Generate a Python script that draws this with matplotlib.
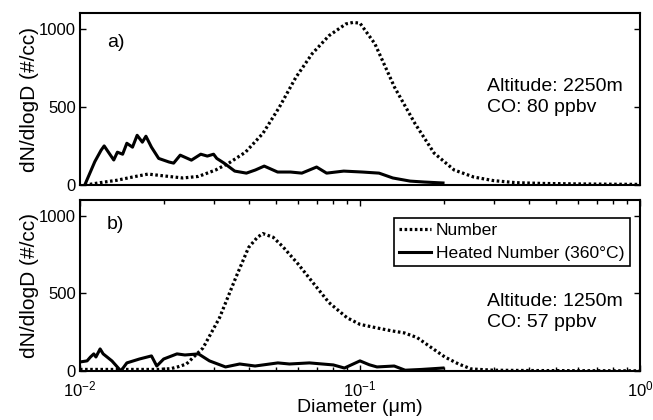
import numpy as np
import matplotlib.pyplot as plt
from matplotlib.ticker import LogLocator, NullFormatter, NullLocator

# panel a) 2250 m
a_num_d = [0.0104, 0.0109, 0.0118, 0.0135, 0.0155, 0.0175, 0.0200, 0.0233, 0.0265,
           0.0305, 0.0340, 0.0390, 0.0450, 0.0515, 0.0590, 0.0675, 0.0775, 0.0890,
           0.0945, 0.1000, 0.1130, 0.1330, 0.1570, 0.1840, 0.2170, 0.2550, 0.3000,
           0.3600, 0.4500, 0.6000, 0.8000, 1.0000]
a_num_v = [0, 5, 15, 30, 52, 70, 58, 45, 55, 96, 140, 210, 330, 497, 688, 840, 955, 1030,
           1040, 1035, 904, 624, 395, 204, 96, 51, 28, 15, 10, 7, 5, 4]

a_heat_d = [0.0104, 0.0113, 0.0119, 0.0122, 0.0132, 0.0136, 0.0142, 0.0147, 0.0154, 0.0160,
            0.0167, 0.0172, 0.0180, 0.0191, 0.0208, 0.0216, 0.0228, 0.0250, 0.0270,
            0.0285, 0.0300, 0.0308, 0.0327, 0.0357, 0.0393, 0.0423, 0.0455, 0.0508,
            0.0565, 0.0620, 0.0700, 0.0760, 0.0875, 0.1020, 0.1170, 0.1310, 0.1510,
            0.1700, 0.1880, 0.1980]
a_heat_v = [0, 150, 223, 250, 160, 210, 197, 267, 242, 318, 274, 312, 242, 170, 147, 140,
            191, 159, 197, 185, 197, 170, 140, 89, 76, 96, 121, 83, 83, 76, 115, 76, 89,
            83, 76, 45, 25, 19, 15, 13]

# panel b) 1250 m
b_num_d = [0.0100, 0.0130, 0.0160, 0.0190, 0.0211, 0.0225, 0.0240, 0.0275, 0.0315, 0.0360,
           0.0400, 0.0430, 0.0450, 0.0490, 0.0530, 0.0600, 0.0685, 0.0775, 0.0900, 0.1000,
           0.1150, 0.1300, 0.1440, 0.1600, 0.1800, 0.2010, 0.2250, 0.2500, 0.3000, 0.4000,
           0.6000, 1.0000]
b_num_v = [10, 10, 10, 10, 15, 28, 45, 148, 342, 600, 794, 860, 884, 860, 800, 690, 560,
           440, 342, 300, 277, 258, 245, 215, 150, 90, 45, 13, 5, 3, 2, 1]

b_heat_d = [0.0100, 0.0106, 0.0109, 0.0112, 0.0114, 0.0118, 0.0121, 0.0130, 0.0140, 0.0147,
            0.0163, 0.0180, 0.0188, 0.0199, 0.0222, 0.0237, 0.0265, 0.0290, 0.0331, 0.0372,
            0.0422, 0.0509, 0.0560, 0.0660, 0.0803, 0.0880, 0.1000, 0.1080, 0.1150, 0.1325,
            0.1450, 0.1660, 0.1980]
b_heat_v = [58, 65, 90, 110, 90, 142, 110, 65, 0, 52, 77, 97, 32, 77, 110, 103, 110, 65,
            26, 45, 32, 52, 45, 52, 39, 19, 65, 40, 26, 32, 5, 10, 19]


def style_axes(ax, show_x):
    ax.set_xscale('log')
    ax.set_xlim(1e-2, 1)
    ax.set_ylim(0, 1100)
    ax.set_yticks([0, 500, 1000])
    ax.set_ylabel('dN/dlogD (#/cc)', fontsize=15, labelpad=0)
    ax.tick_params(direction='in', which='both', right=True, top=show_x,
                   bottom=show_x, labelsize=12, length=4, width=1)
    ax.tick_params(which='minor', length=3)
    ax.tick_params(axis='x', pad=6)
    ax.tick_params(axis='y', pad=3)
    for s in ax.spines.values():
        s.set_linewidth(1.5)
    if show_x:
        ax.xaxis.set_major_locator(LogLocator(base=10, numticks=5))
        ax.xaxis.set_minor_locator(LogLocator(base=10, subs=np.arange(2, 10), numticks=20))
        ax.xaxis.set_minor_formatter(NullFormatter())
    else:
        ax.xaxis.set_major_locator(NullLocator())
        ax.xaxis.set_minor_locator(NullLocator())


def main():
    plt.rcParams['font.family'] = ['Liberation Sans', 'DejaVu Sans']
    plt.rcParams['mathtext.fontset'] = 'custom'
    plt.rcParams['mathtext.rm'] = 'Liberation Sans'
    plt.rcParams['mathtext.it'] = 'Liberation Sans'
    fig = plt.figure(figsize=(6.53, 4.2), dpi=100)
    ax1 = fig.add_axes([0.1225, 0.5595, 0.8575, 0.4095])
    ax2 = fig.add_axes([0.1225, 0.1167, 0.8575, 0.4071])

    dots = (0, (0.8, 0.8))
    ax1.plot(a_num_d, a_num_v, color='black', lw=2.3, ls=dots)
    ax1.plot(a_heat_d, a_heat_v, color='black', lw=2.2)
    style_axes(ax1, False)
    ax1.text(0.048, 0.83, 'a)', transform=ax1.transAxes, fontsize=14, va='center')
    ax1.text(0.726, 0.51, 'Altitude: 2250m\nCO: 80 ppbv', transform=ax1.transAxes,
             fontsize=14, linespacing=1.3, va='center')

    ax2.plot(b_num_d, b_num_v, color='black', lw=2.3, ls=dots, label='Number')
    ax2.plot(b_heat_d, b_heat_v, color='black', lw=2.2,
             label='Heated Number (360\u00b0C)')
    style_axes(ax2, True)
    ax2.text(0.048, 0.855, 'b)', transform=ax2.transAxes, fontsize=14, va='center')
    ax2.text(0.726, 0.345, 'Altitude: 1250m\nCO: 57 ppbv', transform=ax2.transAxes,
             fontsize=14, linespacing=1.3, va='center')
    ax2.set_xlabel('Diameter (\u03bcm)', fontsize=14, labelpad=0)
    leg = ax2.legend(loc='upper right', bbox_to_anchor=(0.982, 0.895), fontsize=12.6,
                     frameon=True, fancybox=False, edgecolor='black',
                     handlelength=1.8, handletextpad=0.3, borderpad=0.3,
                     labelspacing=0.4, borderaxespad=0, framealpha=1)
    leg.get_frame().set_linewidth(1.2)

    fig.savefig('out.png', dpi=100)


if __name__ == '__main__':
    main()
